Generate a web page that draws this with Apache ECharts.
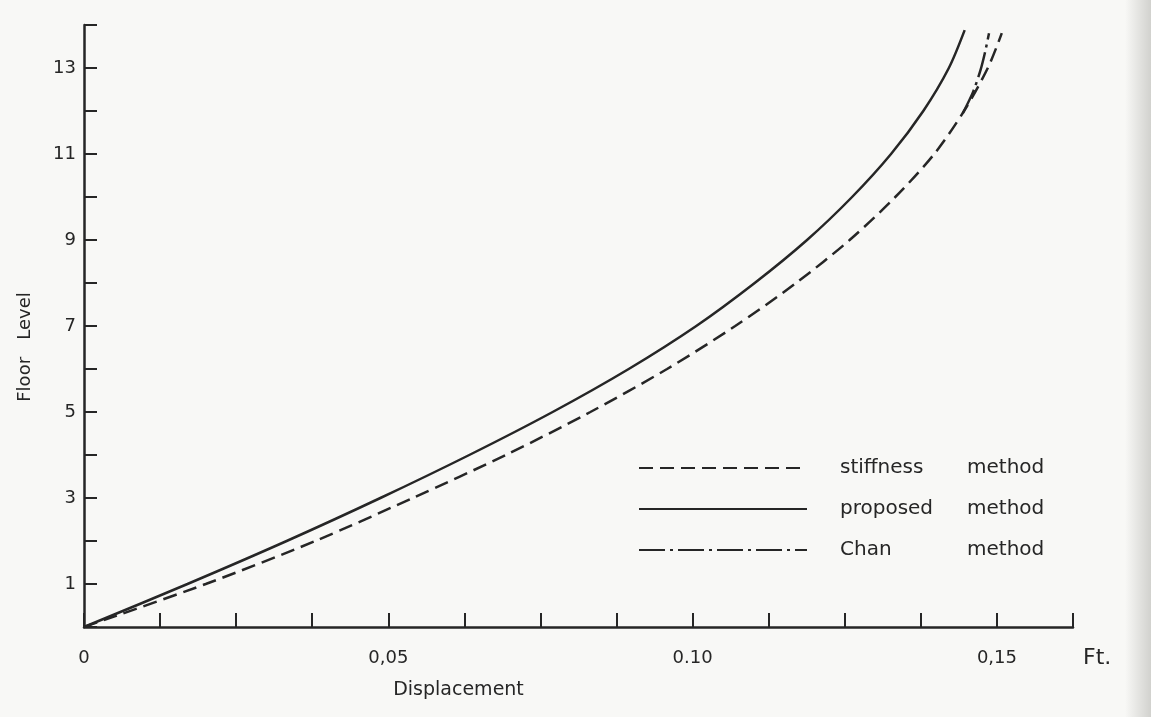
<!DOCTYPE html>
<html>
<head>
<meta charset="utf-8">
<script src="https://cdn.jsdelivr.net/npm/echarts@6/dist/echarts.min.js"></script>
<style>
  html, body { margin: 0; padding: 0; background: #f8f8f6; }
  #chart { width: 1151px; height: 717px; }
</style>
</head>
<body>
<div id="chart"></div>
<script>
// Lateral displacement (ft) of each floor
const proposedFloor = [0, 1, 2, 3, 4, 5, 6, 7, 8, 9, 10, 11, 12, 13, 13.88];
const proposedDisp  = [0, 0.0170, 0.0333, 0.0487, 0.0633, 0.0770, 0.0895, 0.1006, 0.1102, 0.1188, 0.1262, 0.1326, 0.1379, 0.1421, 0.1447];

const stiffnessFloor = [0, 1, 2, 3, 4, 5, 6, 7, 8, 9, 10, 11, 12, 13, 13.81];
const stiffnessDisp  = [0, 0.0200, 0.0380, 0.0540, 0.0693, 0.0832, 0.0958, 0.1070, 0.1170, 0.1258, 0.1333, 0.1397, 0.1446, 0.1485, 0.1508];

// Chan's curve coincides with the stiffness curve below about floor 12
const chanFloor = [11.95, 12.45, 12.95, 13.4, 13.81];
const chanDisp  = [0.1444, 0.1461, 0.1473, 0.1481, 0.1487];

const seriesNames = ['stiffness method', 'proposed method', 'Chan method'];

// Axis tick labels
const xTickLabels = { '0': '0', '0.05': '0,05', '0.1': '0.10', '0.15': '0,15' };
const yTickLabels = ['1', '3', '5', '7', '9', '11', '13'];

const pair = (xs, ys) => xs.map((x, i) => [x, ys[i]]);

const ink = '#262626';
const font = 'DejaVu Sans';

const chart = echarts.init(document.getElementById('chart'));
chart.setOption({
  backgroundColor: '#f8f8f6',
  animation: false,
  grid: { left: 84, right: 78, top: 25, bottom: 90 },
  xAxis: {
    type: 'value', min: 0, max: 0.1625, interval: 0.0125,
    name: 'Displacement', nameLocation: 'middle', nameGap: 54,
    nameTextStyle: { color: ink, fontFamily: font, fontSize: 19, padding: [0, 240, 0, 0] },
    axisLine: { lineStyle: { color: ink, width: 2.5 } },
    axisTick: { inside: true, length: 14, lineStyle: { color: ink, width: 2 } },
    axisLabel: {
      margin: 22, color: ink, fontFamily: font, fontSize: 18,
      formatter: v => xTickLabels[String(Math.round(v * 10000) / 10000)] || ''
    },
    splitLine: { show: false }
  },
  yAxis: {
    type: 'value', min: 0, max: 14, interval: 1,
    name: 'Floor   Level', nameLocation: 'middle', nameGap: 50, nameRotate: 90,
    nameTextStyle: { color: ink, fontFamily: font, fontSize: 18, padding: [0, 0, 0, -42] },
    axisLine: { lineStyle: { color: ink, width: 2.5 } },
    axisTick: { inside: true, length: 13, lineStyle: { color: ink, width: 2 } },
    axisLabel: {
      margin: 8, color: ink, fontFamily: font, fontSize: 18,
      formatter: v => yTickLabels.includes(String(v)) ? String(v) : ''
    },
    splitLine: { show: false }
  },
  legend: {
    orient: 'vertical', left: 633, top: 451, itemGap: 17,
    itemWidth: 168, itemHeight: 14, selectedMode: false,
    itemStyle: { opacity: 0 },
    data: seriesNames,
    formatter: name => {
      const parts = name.split(' ');
      return '{a|' + parts[0] + '}{b|' + parts[1] + '}';
    },
    textStyle: {
      color: ink, fontFamily: font, fontSize: 20, lineHeight: 24,
      rich: {
        a: { width: 127, padding: [0, 0, 0, 28], fontSize: 20, fontFamily: font, color: ink },
        b: { fontSize: 20, fontFamily: font, color: ink }
      }
    }
  },
  graphic: [
    { type: 'text', left: 1083, top: 647,
      style: { text: 'Ft.', fill: ink, font: '22px "DejaVu Sans"' } },
    // darkened paper edge on the right
    { type: 'rect', right: 0, top: 0, silent: true,
      shape: { width: 26, height: 717 },
      style: { fill: new echarts.graphic.LinearGradient(0, 0, 1, 0, [
        { offset: 0, color: 'rgba(200,200,196,0)' },
        { offset: 1, color: 'rgba(200,200,196,0.8)' }
      ]) } }
  ],
  series: [
    {
      name: seriesNames[0], type: 'line', smooth: 0.3, symbol: 'none',
      itemStyle: { color: ink },
      data: pair(stiffnessDisp, stiffnessFloor),
      lineStyle: { color: ink, width: 2.5, type: [14, 7] }
    },
    {
      name: seriesNames[1], type: 'line', smooth: 0.3, symbol: 'none',
      itemStyle: { color: ink },
      data: pair(proposedDisp, proposedFloor),
      lineStyle: { color: ink, width: 2.5, type: 'solid' }
    },
    {
      name: seriesNames[2], type: 'line', smooth: 0.3, symbol: 'none',
      itemStyle: { color: ink },
      data: pair(chanDisp, chanFloor),
      lineStyle: { color: ink, width: 2.5, type: [26, 5, 3, 5] }
    }
  ]
});
</script>
</body>
</html>
